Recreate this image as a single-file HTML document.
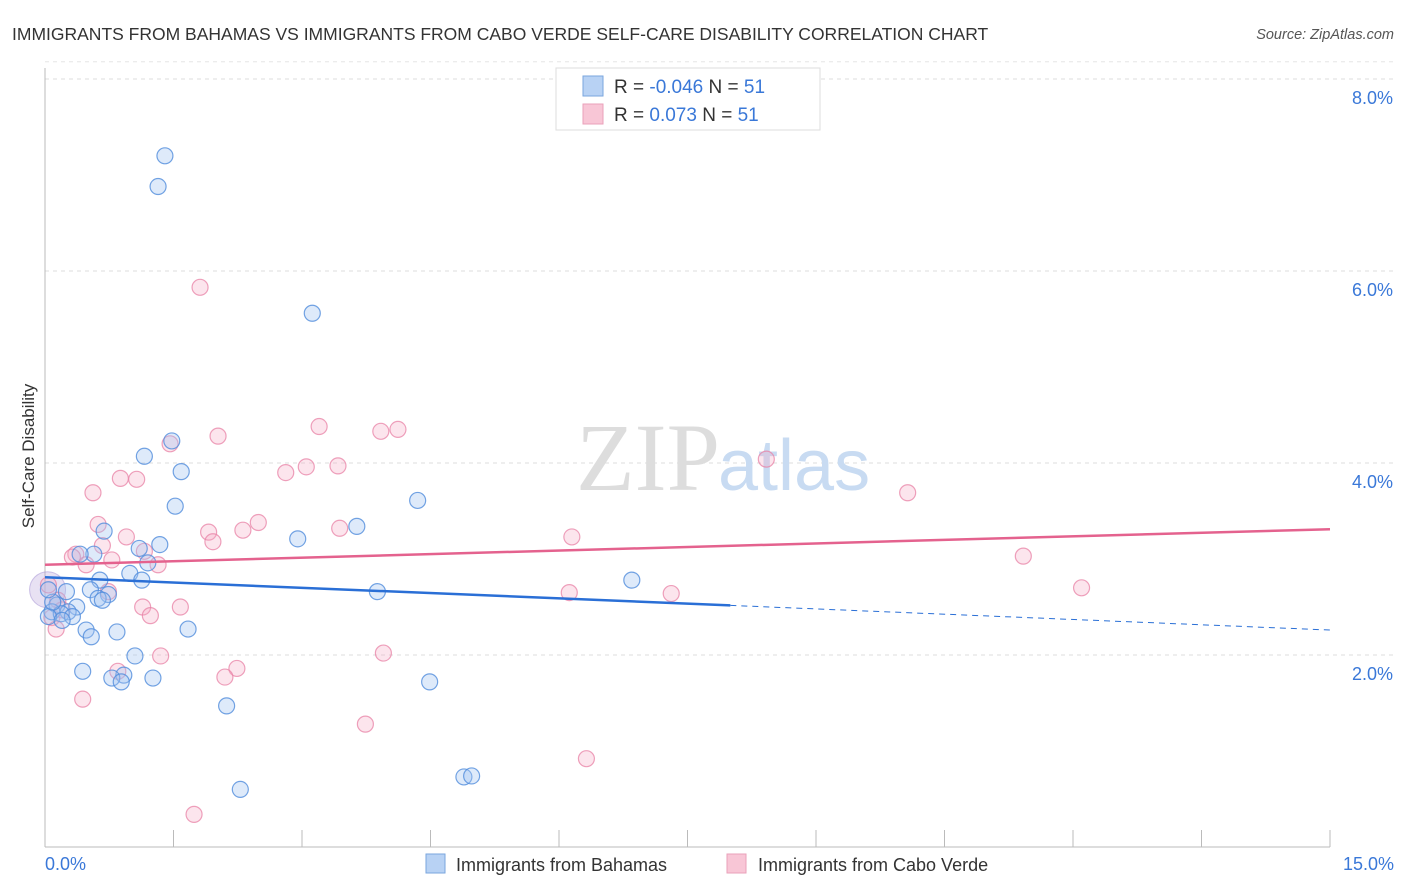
<!DOCTYPE html>
<html><head><meta charset="utf-8"><style>
body{margin:0;background:#fff;font-family:"Liberation Sans",sans-serif;}
svg{display:block}
</style></head><body>
<svg width="1406" height="892" xmlns="http://www.w3.org/2000/svg">
<text x="12" y="40" font-size="17.5" fill="#333">IMMIGRANTS FROM BAHAMAS VS IMMIGRANTS FROM CABO VERDE SELF-CARE DISABILITY CORRELATION CHART</text>
<text x="1394" y="39" font-size="14.5" fill="#555" font-style="italic" text-anchor="end">Source: ZipAtlas.com</text>
<g id="grid"></g>
<g id="axes"></g>
<text x="720" y="490" font-size="96" fill="#ddd" font-family="Liberation Serif,serif" text-anchor="end">ZIP</text>
<text x="718" y="490" font-size="72" fill="#c8dbf2">atlas</text>
<text transform="translate(34,456) rotate(-90)" font-size="17" fill="#333" text-anchor="middle">Self-Care Disability</text>
<g id="pts"></g>
<g id="trends"></g>
<g>
<rect x="556" y="68" width="264" height="62" fill="#fff" stroke="#ddd"/>
<rect x="583" y="76" width="20" height="20" fill="#b8d2f4" stroke="#7aa6de"/>
<rect x="583" y="104" width="20" height="20" fill="#f8c6d6" stroke="#eaa0ba"/>
<text x="614" y="93" font-size="19" fill="#333">R = <tspan fill="#3a78d8">-0.046</tspan>   N = <tspan fill="#3a78d8">51</tspan></text>
<text x="614" y="121" font-size="19" fill="#333">R =   <tspan fill="#3a78d8">0.073</tspan>   N = <tspan fill="#3a78d8">51</tspan></text>
</g>
<g>
<rect x="426" y="854" width="19" height="19" fill="#b8d2f4" stroke="#7aa6de"/>
<text x="456" y="871" font-size="18" fill="#333">Immigrants from Bahamas</text>
<rect x="727" y="854" width="19" height="19" fill="#f8c6d6" stroke="#eaa0ba"/>
<text x="758" y="871" font-size="18" fill="#333">Immigrants from Cabo Verde</text>
</g>
</svg>
<script>
const blueX=[1.40,1.32,3.12,1.48,1.16,1.59,1.52,4.35,0.69,3.64,2.95,1.34,1.10,0.57,0.41,1.20,0.99,0.64,1.13,6.85,3.88,0.25,0.53,0.74,0.62,0.67,0.37,0.14,0.08,0.27,0.19,0.32,0.48,1.67,0.84,0.54,1.05,0.44,0.92,0.78,0.89,1.26,4.49,2.12,2.28,4.89,4.98,0.04,0.09,0.20,0.04];
const blueY=[7.20,6.88,5.56,4.23,4.07,3.91,3.55,3.61,3.29,3.34,3.21,3.15,3.11,3.05,3.05,2.96,2.85,2.78,2.78,2.78,2.66,2.66,2.68,2.63,2.59,2.57,2.50,2.52,2.45,2.45,2.43,2.40,2.26,2.27,2.24,2.19,1.99,1.83,1.79,1.76,1.72,1.76,1.72,1.47,0.60,0.73,0.74,2.40,2.55,2.36,2.68];
const pinkX=[1.81,3.20,4.12,3.92,2.02,1.46,8.42,3.42,3.05,2.81,0.88,1.07,0.56,10.07,2.49,0.62,1.91,3.44,2.31,6.15,0.95,1.96,0.67,1.16,0.36,0.32,0.48,0.78,1.32,11.42,12.10,6.12,7.31,0.74,0.15,1.14,1.58,1.23,0.08,0.13,1.35,3.95,0.85,2.24,2.10,0.44,3.74,6.32,1.74,0.04,0.20];
const pinkY=[5.83,4.38,4.35,4.33,4.28,4.20,4.04,3.97,3.96,3.90,3.84,3.83,3.69,3.69,3.38,3.36,3.28,3.32,3.30,3.23,3.23,3.18,3.14,3.08,3.05,3.02,2.94,2.99,2.94,3.03,2.70,2.65,2.64,2.66,2.57,2.50,2.50,2.41,2.39,2.27,1.99,2.02,1.83,1.86,1.77,1.54,1.28,0.92,0.34,2.73,2.47];
const yTicks=[2,4,6,8];
const yTickLabels=["2.0%","4.0%","6.0%","8.0%"];
const blueTrend=[2.81,2.26]; const blueSolidEnd=8.0;
const pinkTrend=[2.94,3.31];
const NS="http://www.w3.org/2000/svg";
const sx=v=>45+v/15*1285, sy=v=>847-v*96;
function mk(tag,attrs,parent){const e=document.createElementNS(NS,tag);for(const k in attrs)e.setAttribute(k,attrs[k]);parent.appendChild(e);return e;}
const grid=document.getElementById('grid'),axes=document.getElementById('axes'),pts=document.getElementById('pts'),tr=document.getElementById('trends');
yTicks.forEach((t,i)=>{
 const l=mk('line',{x1:45,x2:1394,y1:sy(t),y2:sy(t),stroke:'#ddd','stroke-dasharray':'4,4'},grid);
 
 
 const tx=mk('text',{x:1393,y:sy(t)+25,'font-size':18,fill:'#3a78d8','text-anchor':'end'},axes);
 tx.textContent=yTickLabels[i];
 
 
});
mk('line',{x1:45,x2:1394,y1:sy(8.18),y2:sy(8.18),stroke:'#e6e6e6','stroke-dasharray':'4,4'},grid);
mk('line',{x1:45,x2:45,y1:68,y2:847,stroke:'#bbb'},axes);
mk('line',{x1:45,x2:1330,y1:847,y2:847,stroke:'#bbb'},axes);
for(let i=0;i<=10;i++){mk('line',{x1:sx(i*1.5),x2:sx(i*1.5),y1:830,y2:847,stroke:'#bbb'},axes);}
const x0=mk('text',{x:45,y:870,'font-size':18,fill:'#3a78d8'},axes);x0.textContent='0.0%';


const x1=mk('text',{x:1394,y:870,'font-size':18,fill:'#3a78d8','text-anchor':'end'},axes);x1.textContent='15.0%';


const big=mk('circle',{cx:sx(0.03),cy:sy(2.68),r:18,fill:'rgba(190,170,220,0.35)',stroke:'rgba(160,140,210,0.5)'},pts);


function drawPts(X,Y,fill,stroke,name){X.forEach((x,i)=>{const c=mk('circle',{cx:sx(x),cy:sy(Y[i]),r:8,fill:fill,stroke:stroke,'stroke-width':1.2},pts);
 
 });}
drawPts(pinkX,pinkY,'rgba(244,170,196,0.3)','rgba(232,130,165,0.75)','point-cabo-verde');
drawPts(blueX,blueY,'rgba(160,196,240,0.35)','rgba(80,140,220,0.8)','point-bahamas');
const by=x=>blueTrend[0]+(blueTrend[1]-blueTrend[0])*x/15;
const b1=mk('line',{x1:sx(0),y1:sy(by(0)),x2:sx(blueSolidEnd),y2:sy(by(blueSolidEnd)),stroke:'#2a6fd6','stroke-width':2.5},tr);


const b2=mk('line',{x1:sx(blueSolidEnd),y1:sy(by(blueSolidEnd)),x2:sx(15),y2:sy(by(15)),stroke:'#2a6fd6','stroke-width':1,'stroke-dasharray':'6,5'},tr);


const p1=mk('line',{x1:sx(0),y1:sy(pinkTrend[0]),x2:sx(15),y2:sy(pinkTrend[1]),stroke:'#e4628e','stroke-width':2.5},tr);


</script>
</body></html>
